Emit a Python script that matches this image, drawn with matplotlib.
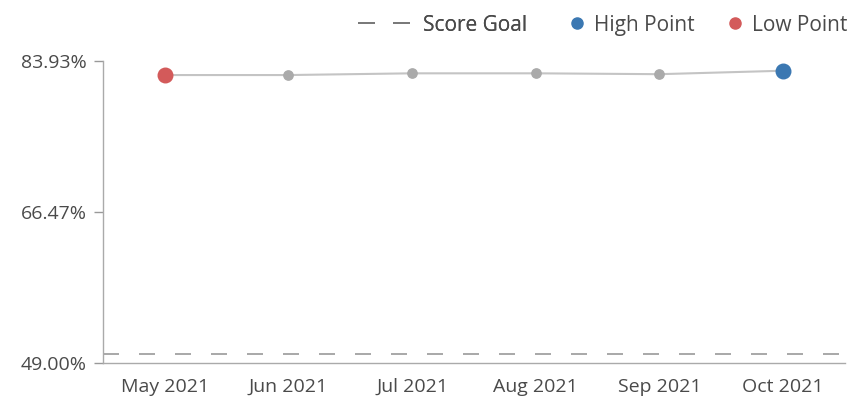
import matplotlib.pyplot as plt
from matplotlib.lines import Line2D

plt.rcParams['font.family'] = ['Open Sans', 'DejaVu Sans']

# chart data
months = ['May 2021', 'Jun 2021', 'Jul 2021', 'Aug 2021', 'Sep 2021', 'Oct 2021']
scores = [82.3, 82.3, 82.5, 82.5, 82.4, 82.8]
score_goal = 50.0
y_ticks = [49.00, 66.47, 83.93]

TEXT = '#4a4a4a'
LINE = '#c4c4c4'
DOT = '#aaaaaa'
HIGH = '#3b78b2'
LOW = '#d35a5a'

fig = plt.figure(figsize=(8.67, 4.01), dpi=100)
ax = fig.add_axes([0.1188, 0.0948, 0.8558, 0.7532])

x = list(range(len(months)))
ax.plot(x, scores, color=LINE, lw=1.5, zorder=2)
ax.scatter(x, scores, s=45, color=DOT, zorder=3)

hi = scores.index(max(scores))
lo = scores.index(min(scores))
ax.scatter([hi], [scores[hi]], s=110, color=HIGH, zorder=4)
ax.scatter([lo], [scores[lo]], s=110, color=LOW, zorder=4)

ax.axhline(score_goal, color='#999999', lw=1.2, dashes=(9.6, 12), zorder=1)

ax.set_xlim(-0.5, len(months) - 0.5)
ax.set_ylim(y_ticks[0], y_ticks[-1])
ax.set_xticks(x)
ax.set_xticklabels(months)
ax.set_yticks(y_ticks)
ax.set_yticklabels(['%.2f%%' % v for v in y_ticks])
ax.tick_params(axis='x', length=0, pad=11, labelsize=14, labelcolor=TEXT)
ax.tick_params(axis='y', length=6.5, width=1, color='#999999', labelsize=14,
               labelcolor=TEXT, pad=5)

for side in ['top', 'right']:
    ax.spines[side].set_visible(False)
for side in ['left', 'bottom']:
    ax.spines[side].set_color('#aaaaaa')
    ax.spines[side].set_linewidth(1)

# goal legend: long dashed handle, two dashes
goal_leg = fig.legend([Line2D([], [], color='#777777', lw=1.2, dashes=(10.2, 10.8))],
                      ['Score Goal'], loc='upper right',
                      bbox_to_anchor=(0.63, 1.01), frameon=False,
                      fontsize=15, labelcolor=TEXT,
                      handlelength=2.7, handletextpad=0.45)
fig.add_artist(goal_leg)

# point legends: short round handle
dots = [
    Line2D([], [], marker='o', ls='', color=HIGH, markersize=8),
    Line2D([], [], marker='o', ls='', color=LOW, markersize=8),
]
fig.legend(dots, ['High Point', 'Low Point'],
           loc='upper right', bbox_to_anchor=(0.999, 1.01), ncol=2,
           frameon=False, fontsize=15, labelcolor=TEXT,
           handlelength=0.7, handletextpad=0.45, columnspacing=1.6)

fig.savefig('out.png', dpi=100)
